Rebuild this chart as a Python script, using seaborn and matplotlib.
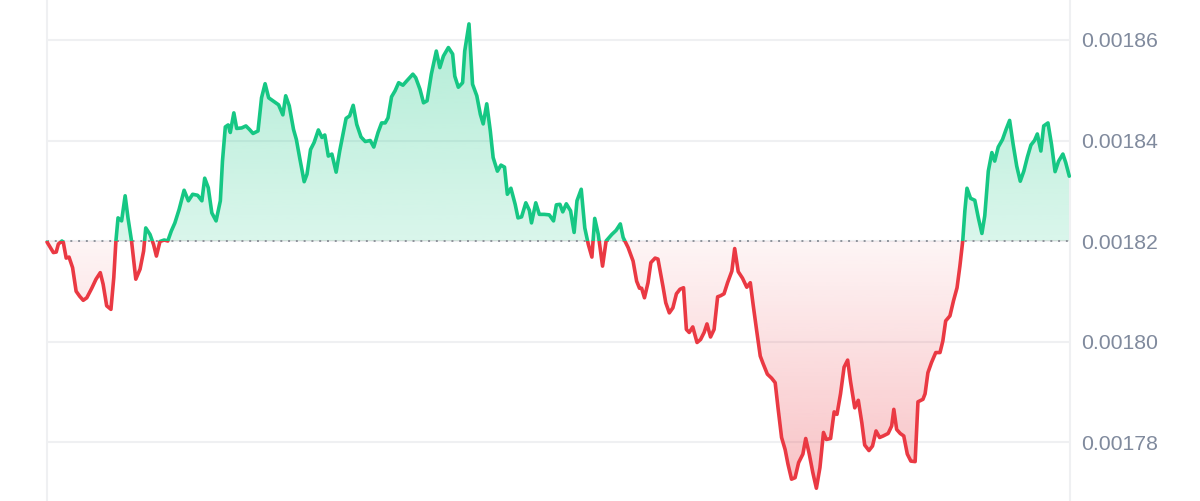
import numpy as np
import pandas as pd
import matplotlib
matplotlib.use("Agg")
import matplotlib.pyplot as plt
import seaborn as sns
from matplotlib.patches import Rectangle, Polygon
from matplotlib.colors import to_rgb

# minutes since start of the 24h window
minutes = [0, 9, 13, 16, 21, 23, 27, 31, 36, 41,
           46, 51, 56, 63, 69, 75, 79, 84, 90, 94,
           97, 100, 105, 110, 114, 119, 125, 131, 136, 139,
           145, 150, 154, 159, 165, 170, 175, 180, 186, 193,
           199, 205, 212, 218, 222, 227, 232, 238, 244, 247,
           251, 255, 258, 263, 267, 274, 280, 285, 290, 297,
           302, 307, 312, 318, 326, 332, 336, 341, 347, 351,
           356, 362, 366, 371, 376, 382, 387, 391, 396, 401,
           407, 412, 421, 426, 431, 436, 442, 448, 455, 460,
           466, 471, 476, 480, 485, 490, 495, 501, 506, 515,
           519, 525, 530, 535, 541, 545, 548, 553, 558, 565,
           571, 574, 579, 585, 588, 594, 599, 605, 610, 614,
           619, 624, 628, 634, 639, 644, 648, 653, 659, 663,
           668, 674, 679, 682, 688, 693, 700, 707, 713, 717,
           722, 726, 731, 737, 742, 746, 752, 757, 762, 767,
           771, 776, 782, 787, 795, 801, 807, 811, 818, 825,
           830, 834, 837, 841, 846, 850, 856, 860, 867, 871,
           876, 881, 886, 891, 896, 900, 904, 909, 915, 920,
           925, 929, 934, 939, 944, 948, 953, 958, 964, 968,
           973, 979, 985, 990, 994, 999, 1004, 1008, 1014, 1020,
           1025, 1029, 1034, 1039, 1043, 1048, 1053, 1058, 1064, 1068,
           1073, 1078, 1083, 1088, 1093, 1097, 1103, 1108, 1112, 1117,
           1122, 1127, 1131, 1137, 1142, 1147, 1151, 1157, 1162, 1167,
           1172, 1177, 1184, 1189, 1192, 1196, 1201, 1206, 1211, 1216,
           1222, 1226, 1233, 1236, 1240, 1245, 1251, 1257, 1261, 1265,
           1271, 1276, 1281, 1285, 1289, 1292, 1295, 1300, 1306, 1311,
           1316, 1320, 1325, 1330, 1334, 1339, 1345, 1350, 1355, 1360,
           1365, 1370, 1375, 1380, 1385, 1390, 1394, 1399, 1403, 1409,
           1414, 1419, 1424, 1430, 1434, 1439]

price = [0.0018198, 0.0018177, 0.0018178, 0.0018194, 0.0018200, 0.0018197, 0.0018166, 0.0018168, 0.0018147, 0.0018100,
         0.0018090, 0.0018082, 0.0018087, 0.0018106, 0.0018124, 0.0018137, 0.0018114, 0.0018071, 0.0018064, 0.0018127,
         0.0018200, 0.0018246, 0.0018240, 0.0018290, 0.0018246, 0.0018200, 0.0018124, 0.0018144, 0.0018180, 0.0018226,
         0.0018213, 0.0018193, 0.0018170, 0.0018199, 0.0018202, 0.0018200, 0.0018220, 0.0018236, 0.0018263, 0.0018301,
         0.0018280, 0.0018293, 0.0018291, 0.0018280, 0.0018325, 0.0018306, 0.0018256, 0.0018240, 0.0018280, 0.0018359,
         0.0018427, 0.0018431, 0.0018416, 0.0018455, 0.0018424, 0.0018425, 0.0018429, 0.0018422, 0.0018414, 0.0018419,
         0.0018485, 0.0018513, 0.0018485, 0.0018479, 0.0018471, 0.0018451, 0.0018489, 0.0018469, 0.0018422, 0.0018402,
         0.0018363, 0.0018318, 0.0018333, 0.0018382, 0.0018396, 0.0018421, 0.0018406, 0.0018411, 0.0018369, 0.0018373,
         0.0018337, 0.0018379, 0.0018444, 0.0018449, 0.0018470, 0.0018432, 0.0018407, 0.0018398, 0.0018400, 0.0018387,
         0.0018416, 0.0018435, 0.0018435, 0.0018445, 0.0018487, 0.0018499, 0.0018515, 0.0018510, 0.0018518, 0.0018532,
         0.0018525, 0.0018502, 0.0018475, 0.0018479, 0.0018532, 0.0018558, 0.0018578, 0.0018545, 0.0018568, 0.0018585,
         0.0018572, 0.0018528, 0.0018506, 0.0018515, 0.0018578, 0.0018632, 0.0018512, 0.0018489, 0.0018452, 0.0018433,
         0.0018473, 0.0018419, 0.0018366, 0.0018339, 0.0018351, 0.0018347, 0.0018293, 0.0018305, 0.0018273, 0.0018246,
         0.0018248, 0.0018276, 0.0018261, 0.0018236, 0.0018276, 0.0018253, 0.0018253, 0.0018252, 0.0018240, 0.0018272,
         0.0018273, 0.0018258, 0.0018274, 0.0018260, 0.0018217, 0.0018280, 0.0018303, 0.0018226, 0.0018193, 0.0018168,
         0.0018245, 0.0018213, 0.0018150, 0.0018200, 0.0018213, 0.0018221, 0.0018234, 0.0018207, 0.0018187, 0.0018160,
         0.0018120, 0.0018106, 0.0018106, 0.0018087, 0.0018117, 0.0018157, 0.0018166, 0.0018164, 0.0018110, 0.0018077,
         0.0018057, 0.0018067, 0.0018095, 0.0018104, 0.0018107, 0.0018024, 0.0018018, 0.0018029, 0.0017998, 0.0018004,
         0.0018018, 0.0018035, 0.0018009, 0.0018024, 0.0018089, 0.0018091, 0.0018095, 0.0018117, 0.0018140, 0.0018185,
         0.0018139, 0.0018126, 0.0018108, 0.0018117, 0.0018073, 0.0018021, 0.0017971, 0.0017956, 0.0017935, 0.0017927,
         0.0017918, 0.0017868, 0.0017809, 0.0017785, 0.0017756, 0.0017726, 0.0017729, 0.0017759, 0.0017776, 0.0017807,
         0.0017776, 0.0017739, 0.0017708, 0.0017749, 0.0017819, 0.0017805, 0.0017807, 0.0017860, 0.0017855, 0.0017896,
         0.0017949, 0.0017963, 0.0017921, 0.0017868, 0.0017883, 0.0017838, 0.0017794, 0.0017783, 0.0017792, 0.0017822,
         0.0017809, 0.0017812, 0.0017817, 0.0017832, 0.0017865, 0.0017825, 0.0017817, 0.0017812, 0.0017776, 0.0017762,
         0.0017761, 0.0017880, 0.0017885, 0.0017896, 0.0017938, 0.0017958, 0.0017978, 0.0017978, 0.0018001, 0.0018041,
         0.0018051, 0.0018081, 0.0018107, 0.0018150, 0.0018200, 0.0018260, 0.0018305, 0.0018285, 0.0018281, 0.0018246,
         0.0018215, 0.0018250, 0.0018339, 0.0018376, 0.0018359, 0.0018387, 0.0018402, 0.0018422, 0.0018440, 0.0018392,
         0.0018349, 0.0018319, 0.0018339, 0.0018367, 0.0018391, 0.0018400, 0.0018413, 0.0018379, 0.0018429, 0.0018435,
         0.0018392, 0.0018338, 0.0018359, 0.0018373, 0.0018356, 0.0018329]

baseline = 0.00182
yticks = [0.00178, 0.00180, 0.00182, 0.00184, 0.00186]
ytick_labels = ["0.00178", "0.00180", "0.00182", "0.00184", "0.00186"]

green = "#16c784"
red = "#ea3943"

df = pd.DataFrame({"minute": minutes, "price": price})

sns.set_style("white")
plt.rcParams['font.family'] = ['Liberation Sans', 'DejaVu Sans']

fig = plt.figure(figsize=(12, 5.01), dpi=100)
ax = fig.add_axes([47 / 1200, 0, 1023 / 1200, 1])
ax.set_xlim(0, 1440)
ax.set_ylim(0.00176826, 0.00186796)


def gradient(color, a_low, a_high, y0, y1):
    # vertical alpha ramp, a_low at y0 and a_high at y1
    rgb = to_rgb(color)
    arr = np.zeros((256, 1, 4))
    arr[:, 0, :3] = rgb
    arr[:, 0, 3] = np.linspace(a_low, a_high, 256)
    lo, hi = min(y0, y1), max(y0, y1)
    if y0 > y1:
        arr = arr[::-1]
    im = ax.imshow(arr, extent=[0, 1440, lo, hi], origin='lower',
                   aspect='auto', interpolation='bicubic', zorder=1)
    return im


# area between the curve and the baseline, used as clip for both fills
verts = [(df.minute.iloc[0], baseline)] + list(zip(df.minute, df.price)) + [(df.minute.iloc[-1], baseline)]
area = Polygon(verts, closed=True, transform=ax.transData)

im_up = gradient(green, 0.16, 0.33, baseline, df.price.max())
im_up.set_clip_path(area)
area2 = Polygon(verts, closed=True, transform=ax.transData)
im_dn = gradient(red, 0.05, 0.31, baseline, df.price.min())
im_dn.set_clip_path(area2)

ax.axhline(baseline, color='#8e939b', lw=1.4, ls=(0, (1, 3)), dash_capstyle='butt', zorder=2)

above = Rectangle((-10, baseline), 2000, 1, transform=ax.transData)
below = Rectangle((-10, baseline - 1), 2000, 1, transform=ax.transData)

sns.lineplot(data=df, x="minute", y="price", color=green, lw=2.6, ax=ax,
             solid_joinstyle='round', zorder=3)
ax.lines[-1].set_clip_path(above)
sns.lineplot(data=df, x="minute", y="price", color=red, lw=2.6, ax=ax,
             solid_joinstyle='round', zorder=3)
ax.lines[-1].set_clip_path(below)

ax.set_xticks([])
ax.set_yticks(yticks)
ax.set_yticklabels(ytick_labels)
ax.yaxis.tick_right()
ax.yaxis.grid(True, color='#eff0f2', lw=1.5)
ax.set_axisbelow(True)
ax.tick_params(axis='y', length=0, pad=8, labelsize=15.3, labelcolor='#808a9d')
ax.set_xlabel("")
ax.set_ylabel("")

for side in ['top', 'bottom']:
    ax.spines[side].set_visible(False)
for side in ['left', 'right']:
    ax.spines[side].set_color('#eff0f2')
    ax.spines[side].set_linewidth(1.5)

fig.savefig("out.png", dpi=100)
